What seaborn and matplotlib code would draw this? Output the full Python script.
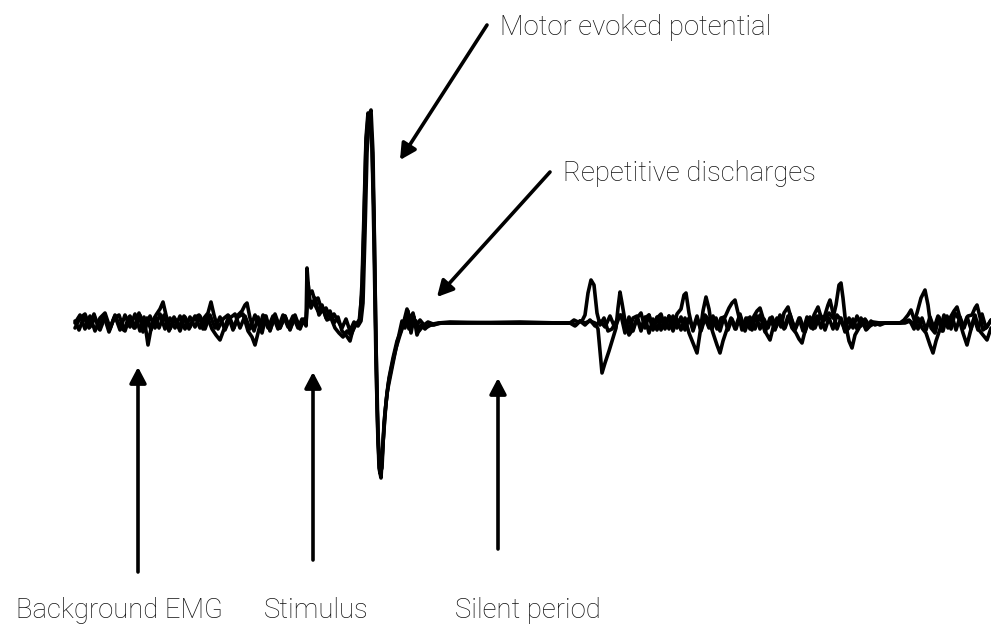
import matplotlib
matplotlib.use("Agg")
import matplotlib.pyplot as plt
import pandas as pd
import seaborn as sns

# Three superimposed EMG sweeps: time (arbitrary units) and amplitude (baseline = 0)
sweep1_t = [75, 80, 85, 90, 95, 100, 105, 110, 115, 120, 125, 130, 135, 140, 144, 148, 152, 156, 160, 163,
            166, 170, 175, 180, 185, 190, 195, 200, 204, 208, 211, 214, 218, 223, 228, 233, 238, 243, 248, 252,
            255, 259, 263, 268, 273, 278, 283, 288, 293, 298, 302, 305, 306, 307, 309, 312, 315, 318, 322, 326,
            330, 334, 338, 342, 346, 350, 354, 358, 361, 363, 365, 367, 369, 371, 373, 375, 377, 379, 381, 383,
            386, 389, 393, 397, 401, 404, 407, 410, 413, 416, 420, 424, 428, 433, 438, 450, 500, 560, 570, 574,
            578, 582, 585, 588, 591, 594, 597, 600, 604, 608, 612, 617, 621, 625, 629, 633, 637, 641, 645, 649,
            653, 657, 661, 665, 669, 673, 677, 681, 684, 686, 689, 693, 697, 701, 705, 709, 713, 717, 720, 723,
            727, 731, 735, 740, 745, 750, 755, 760, 765, 770, 775, 780, 785, 790, 795, 800, 805, 810, 815, 820,
            825, 829, 833, 836, 839, 841, 843, 846, 849, 852, 855, 859, 863, 867, 871, 875, 880, 900, 905, 909,
            913, 917, 921, 925, 928, 931, 935, 939, 943, 947, 951, 955, 959, 963, 967, 970, 974, 978, 982, 986, 991]
sweep1_v = [0, 8, -6, 7, -8, 5, 10, -5, 7, -7, 8, -4, 9, -8, 6, -22, 0, 8, 14, 21,
            8, -6, 4, -8, 6, -4, 7, -5, 5, 10, 21, 8, -6, 4, 8, -7, 6, 9, -8, -14,
            -22, -6, 8, -5, 7, -6, 8, -4, 7, -5, 4, 0, -2, 55, 28, 32, 22, 25, 12, 15,
            6, 9, 2, -5, 4, -8, 1, -3, 2, 20, 90, 170, 208, 213, 170, 40, -80, -145, -155, -120,
            -80, -55, -35, -18, -8, 2, 14, 4, 10, -4, 3, -2, 1, -1, 0, 1, 0, 0, 0, 3,
            1, 2, 8, 30, 43, 38, 10, -2, 5, -8, -6, 3, 8, -10, 6, -8, 5, 10, -5, 8,
            -7, 5, 9, -4, 7, -6, 9, 14, 28, 30, 10, -8, 5, -7, 8, 3, -10, -22, -30, -18,
            -6, 5, -6, 9, -8, 6, -6, 8, -9, 5, -7, 8, -5, 9, -7, 5, -9, 6, -5, 8,
            3, 10, 5, 18, 38, 40, 25, -3, -18, -25, -12, -5, 3, -6, 2, -2, 0, 0, 1, 3,
            -2, 10, 25, 33, 18, -5, -10, 6, -8, 7, -6, 10, 4, -10, -22, -10, 5, -7, 9, -5, 3]

sweep2_t = [75, 79, 84, 89, 94, 99, 104, 109, 114, 119, 124, 129, 134, 139, 143, 147, 151, 155, 159, 164,
            169, 174, 179, 184, 189, 194, 199, 203, 207, 212, 216, 220, 224, 229, 234, 238, 242, 245, 247, 250,
            254, 258, 262, 266, 270, 275, 280, 285, 290, 295, 300, 304, 306, 308, 310, 314, 318, 322, 326, 330,
            334, 338, 342, 346, 350, 353, 357, 360, 362, 364, 366, 368, 370, 372, 374, 376, 378, 380, 382, 384,
            387, 391, 395, 399, 402, 405, 408, 411, 414, 417, 421, 425, 429, 434, 440, 455, 520, 560, 572, 576,
            580, 585, 590, 595, 598, 600, 602, 605, 609, 613, 616, 618, 620, 622, 625, 629, 633, 637, 641, 645,
            649, 653, 657, 661, 665, 669, 673, 677, 681, 685, 689, 693, 697, 700, 703, 706, 709, 712, 716, 720,
            724, 728, 732, 736, 740, 744, 748, 752, 756, 760, 764, 768, 772, 776, 780, 784, 788, 792, 796, 799,
            802, 805, 809, 813, 817, 821, 825, 828, 830, 833, 837, 841, 845, 849, 853, 857, 861, 866, 870, 875,
            880, 885, 895, 905, 910, 914, 918, 922, 926, 930, 933, 936, 940, 944, 948, 952, 956, 960, 964, 968,
            972, 975, 977, 980, 983, 987, 991]
sweep2_v = [2, -7, 6, -5, 9, -6, 7, -9, 5, 8, -7, 6, -5, 10, -9, 5, -7, 6, -5, 8,
            -8, 6, -4, 7, -6, 5, 8, -6, 7, -6, -12, -17, -6, 7, -5, 8, 12, 18, 20, 5,
            -8, 6, -10, 7, -8, 9, -5, 7, -7, 8, -6, 4, -3, 40, 22, 20, 12, 18, 5, 12,
            0, 6, -8, -12, -18, -6, 0, 4, 40, 110, 185, 210, 205, 175, 110, -20, -110, -150, -145, -100,
            -70, -50, -30, -12, 2, -5, 12, -10, 6, -12, -2, -6, -2, -2, 0, 0, 1, 0, 0, -2,
            2, 0, 2, 0, -6, -28, -50, -40, -28, -15, -5, 15, 31, 20, 2, -12, -6, 5, -8, 6,
            -10, 4, -7, 5, -6, 7, -8, 4, -7, 5, -10, -20, -30, -10, 12, 26, 14, -6, 5, -8,
            6, -7, 4, -6, 7, -5, 5, -7, 8, -6, 4, -5, 6, -4, 5, -6, 7, -5, -10, -16,
            -20, -8, 5, -6, 7, -5, 8, 18, 23, 10, -6, 5, -9, -5, 4, -6, 5, -7, -3, 0,
            -2, 0, 0, 0, 2, -6, 5, -5, -10, -22, -30, -18, -6, 8, -5, 7, -7, 6, -5, 7,
            8, 15, 18, 6, -7, -4, 3]

sweep3_t = [75, 80, 85, 90, 95, 100, 105, 110, 115, 120, 125, 130, 135, 140, 145, 150, 155, 160, 165, 170,
            175, 180, 185, 190, 195, 200, 205, 210, 215, 220, 225, 230, 235, 240, 245, 250, 255, 260, 265, 270,
            275, 280, 285, 290, 295, 300, 304, 306, 308, 311, 315, 319, 323, 327, 331, 335, 339, 343, 347, 351,
            355, 359, 362, 364, 366, 368, 370, 372, 374, 376, 378, 380, 382, 385, 388, 392, 396, 400, 403, 406,
            409, 412, 416, 419, 423, 427, 431, 436, 442, 460, 530, 565, 570, 575, 580, 585, 590, 595, 600, 605,
            610, 615, 620, 625, 629, 633, 637, 641, 645, 649, 653, 657, 661, 665, 669, 673, 677, 681, 685, 689,
            693, 697, 701, 705, 709, 713, 717, 721, 725, 729, 732, 735, 738, 742, 746, 750, 754, 757, 760, 763,
            766, 770, 773, 777, 781, 784, 788, 791, 795, 799, 803, 807, 811, 814, 818, 821, 825, 829, 833, 837,
            841, 845, 849, 853, 857, 861, 865, 869, 873, 880, 890, 900, 904, 908, 911, 914, 918, 922, 926, 930,
            934, 938, 942, 946, 950, 954, 957, 960, 963, 967, 971, 975, 979, 983, 987, 990, 991]
sweep3_v = [-5, 5, 9, -4, 5, -7, 6, -6, 8, -4, -8, 7, -5, 8, -6, 7, -5, 9, -6, 5,
            -5, 7, -6, 6, -4, 7, -6, 8, -5, 6, -7, 5, 9, -5, 7, -6, 8, -5, 7, -7,
            6, -5, 7, -6, 5, -3, 1, 0, 30, 15, 25, 8, 14, 3, 5, -5, -10, -14, -8, -12,
            -3, 0, 30, 100, 180, 205, 210, 180, 80, -40, -120, -150, -135, -90, -62, -42, -25, -12, -3, 6,
            -6, 4, 2, -8, -3, -4, -2, -1, 0, 0, 0, 0, 0, -3, 2, -2, 3, -3, 2, -4,
            7, -5, 8, 3, -8, 5, 7, -6, 5, 8, -5, 6, -7, 5, -6, 7, -5, 6, -7, 5,
            -6, 7, -8, 5, -5, 7, -6, 5, 6, 15, 20, 23, 10, -7, 5, -6, 7, 12, 15, 5,
            -10, -17, -5, 5, -4, 10, 16, 5, -6, 5, -8, 6, -5, 8, 16, 6, -7, 5, -6, 8,
            3, -7, 5, -5, 7, -3, 4, -2, 1, 0, 0, 0, 3, 8, 13, 4, -6, 5, -7, 6,
            -5, 7, -8, 5, 5, 12, 16, 5, -5, 6, -6, 8, -7, -12, -17, -8, -5]

sweeps = pd.concat([
    pd.DataFrame({"t": sweep1_t, "v": sweep1_v, "sweep": "1"}),
    pd.DataFrame({"t": sweep2_t, "v": sweep2_v, "sweep": "2"}),
    pd.DataFrame({"t": sweep3_t, "v": sweep3_v, "sweep": "3"}),
])

sns.set_style("white")
plt.rcParams["font.family"] = ["Roboto", "DejaVu Sans"]

fig = plt.figure(figsize=(9.91, 6.30), dpi=100)
ax = fig.add_axes([0, 0, 1, 1])
sns.lineplot(data=sweeps, x="t", y="v", units="sweep", estimator=None, sort=False,
             color="black", lw=2.6, ax=ax, legend=False)

ax.set_xlim(0, 991)
ax.set_ylim(-307, 323)
ax.set_axis_off()

arrow = dict(arrowstyle="-|>,head_length=0.95,head_width=0.5", color="black",
             lw=2.6, shrinkA=0, shrinkB=0)
label = dict(fontsize=19.8, fontweight="light", color="#111111", va="baseline")

# Diagonal callouts
ax.annotate("", xy=(400, 323 - 160), xytext=(487, 323 - 25), arrowprops=arrow)
ax.text(500, 323 - 35, "Motor evoked potential", ha="left", **label)
ax.annotate("", xy=(437, 323 - 297), xytext=(550, 323 - 172), arrowprops=arrow)
ax.text(563, 323 - 181, "Repetitive discharges", ha="left", **label)

# Vertical callouts below the trace
for x, top, bottom in [(138, 367, 572), (313, 372, 560), (498, 378, 549)]:
    ax.annotate("", xy=(x, 323 - top), xytext=(x, 323 - bottom), arrowprops=arrow)
ax.text(119, 323 - 618, "Background EMG", ha="center", **label)
ax.text(316, 323 - 618, "Stimulus", ha="center", **label)
ax.text(528, 323 - 618, "Silent period", ha="center", **label)

fig.savefig("out.png", dpi=100, facecolor="white")
